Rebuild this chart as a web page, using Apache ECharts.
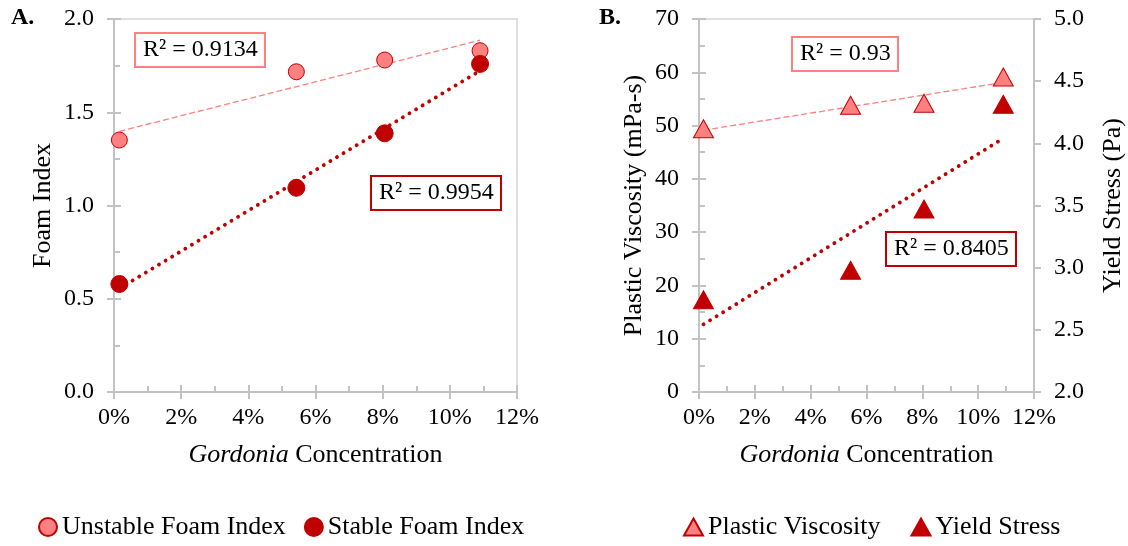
<!DOCTYPE html>
<html>
<head>
<meta charset="utf-8">
<script src="https://cdn.jsdelivr.net/npm/echarts@6/dist/echarts.min.js"></script>
<style>
html,body{margin:0;padding:0;background:#fff;}
#c{width:1128px;height:546px;}
</style>
</head>
<body>
<div id="c"></div>
<script>
// ---- data ----
const concentration = [0.16, 5.43, 8.06, 10.9];          // Gordonia concentration (%)
const unstableFoamIndex = [1.351, 1.717, 1.780, 1.830];
const stableFoamIndex = [0.579, 1.095, 1.387, 1.759];
const plasticViscosity = [49.4, 53.8, 54.2, 59.1];        // mPa-s
const yieldStress = [2.742, 2.979, 3.472, 4.314];         // Pa
const r2Labels = ['R² = 0.9134', 'R² = 0.9954', 'R² = 0.93', 'R² = 0.8405'];
const seriesNames = ['Unstable Foam Index', 'Stable Foam Index', 'Plastic Viscosity', 'Yield Stress'];

const FONT = 'Liberation Serif';
const LIGHT = '#FF8080';
const DARK = '#C00000';
const AXIS = '#C3C3C3';

function pairs(xs, ys) { return xs.map((x, i) => [x, ys[i]]); }
function trend(xs, ys) {
  const n = xs.length;
  const mx = xs.reduce((a, b) => a + b, 0) / n;
  const my = ys.reduce((a, b) => a + b, 0) / n;
  let sxy = 0, sxx = 0;
  for (let i = 0; i < n; i++) { sxy += (xs[i] - mx) * (ys[i] - my); sxx += (xs[i] - mx) * (xs[i] - mx); }
  const b = sxy / sxx, a = my - b * mx;
  const x0 = Math.min(...xs), x1 = Math.max(...xs);
  return [[x0, a + b * x0], [x1, a + b * x1]];
}

const tickFont = { color: '#000', fontFamily: FONT, fontSize: 24 };

function mainX(grid) {
  return {
    type: 'value', gridIndex: grid, position: 'bottom', min: 0, max: 12, interval: 2,
    axisLine: { show: true, onZero: false, lineStyle: { color: AXIS, width: 2 } },
    axisTick: { show: true, inside: false, length: 7, lineStyle: { color: AXIS, width: 2 } },
    axisLabel: Object.assign({ margin: 14, formatter: v => v + '%' }, tickFont),
    splitLine: { show: false },
    name: '{i|Gordonia} Concentration', nameLocation: 'middle', nameGap: 50,
    nameTextStyle: { color: '#000', fontFamily: FONT, fontSize: 26,
      rich: { i: { fontStyle: 'italic', fontFamily: FONT, fontSize: 26, color: '#000' } } }
  };
}
function innerX(grid) {
  return {
    type: 'value', gridIndex: grid, position: 'bottom', min: 0, max: 12, interval: 2,
    axisLine: { show: false, onZero: false },
    axisTick: { show: true, inside: true, length: 7, lineStyle: { color: AXIS, width: 2 } },
    minorTick: { show: true, splitNumber: 2, length: 6, lineStyle: { color: AXIS, width: 2 } },
    axisLabel: { show: false }, splitLine: { show: false }, minorSplitLine: { show: false }
  };
}
function mainY(grid, pos, min, max, interval, digits, name, gap) {
  return {
    type: 'value', gridIndex: grid, position: pos, min: min, max: max, interval: interval,
    axisLine: { show: true, onZero: false, lineStyle: { color: AXIS, width: 2 } },
    axisTick: { show: true, inside: false, length: 7, lineStyle: { color: AXIS, width: 2 } },
    axisLabel: Object.assign({ margin: 20, formatter: v => v.toFixed(digits) }, tickFont),
    splitLine: { show: false },
    name: name, nameLocation: 'middle', nameGap: gap, nameRotate: 90,
    nameTextStyle: { color: '#000', fontFamily: FONT, fontSize: 26 }
  };
}
function innerY(grid, min, max, interval) {
  return {
    type: 'value', gridIndex: grid, position: 'left', min: min, max: max, interval: interval,
    axisLine: { show: false, onZero: false },
    axisTick: { show: true, inside: true, length: 7, lineStyle: { color: AXIS, width: 2 } },
    minorTick: { show: true, splitNumber: 2, length: 6, lineStyle: { color: AXIS, width: 2 } },
    axisLabel: { show: false }, splitLine: { show: false }, minorSplitLine: { show: false }
  };
}

function r2Box(text, color, left, top) {
  return {
    text: text, left: left, top: top, padding: [5, 8],
    borderColor: color, borderWidth: 2, backgroundColor: '#fff',
    textStyle: { color: '#000', fontFamily: FONT, fontSize: 24, fontWeight: 'normal' }
  };
}

const legendText = { color: '#000', fontFamily: FONT, fontSize: 26 };

const option = {
  animation: false,
  backgroundColor: '#fff',
  grid: [
    { left: 114, top: 19, width: 403, height: 373, show: true, borderColor: '#D6D6D6', borderWidth: 1.5, backgroundColor: 'transparent' },
    { left: 699, top: 19, width: 335, height: 373, show: true, borderColor: '#D6D6D6', borderWidth: 1.5, backgroundColor: 'transparent' }
  ],
  title: [
    { text: 'A.', left: 11, top: 6, padding: 0, textStyle: { color: '#000', fontFamily: FONT, fontSize: 24, fontWeight: 'bold' } },
    { text: 'B.', left: 599, top: 6, padding: 0, textStyle: { color: '#000', fontFamily: FONT, fontSize: 24, fontWeight: 'bold' } },
    r2Box(r2Labels[0], LIGHT, 135, 33),
    r2Box(r2Labels[1], DARK, 371, 176),
    r2Box(r2Labels[2], LIGHT, 792, 37),
    r2Box(r2Labels[3], DARK, 886, 232)
  ],
  legend: [
    { data: [seriesNames[0], seriesNames[1]], left: 38, top: 514, itemWidth: 18, itemHeight: 18, itemGap: 18,
      textStyle: legendText, padding: 0 },
    { data: [seriesNames[2], seriesNames[3]], left: 683, top: 514, itemWidth: 19, itemHeight: 17, itemGap: 30,
      textStyle: legendText, padding: 0 }
  ],
  xAxis: [mainX(0), innerX(0), mainX(1), innerX(1)],
  yAxis: [
    mainY(0, 'left', 0, 2, 0.5, 1, 'Foam Index', 58),
    innerY(0, 0, 2, 0.5),
    mainY(1, 'left', 0, 70, 10, 0, 'Plastic Viscosity (mPa-s)', 52),
    innerY(1, 0, 70, 10),
    mainY(1, 'right', 2, 5, 0.5, 1, 'Yield Stress (Pa)', 66)
  ],
  series: [
    { name: 'trend-unstable', type: 'line', xAxisIndex: 0, yAxisIndex: 0, data: trend(concentration, unstableFoamIndex),
      symbol: 'none', z: 1, silent: true, lineStyle: { color: LIGHT, width: 1.3, type: [6, 3] } },
    { name: 'trend-stable', type: 'line', xAxisIndex: 0, yAxisIndex: 0, data: trend(concentration, stableFoamIndex),
      symbol: 'none', z: 1, silent: true, lineStyle: { color: DARK, width: 3.8, type: [0.1, 7.6], cap: 'round' } },
    { name: seriesNames[0], type: 'scatter', xAxisIndex: 0, yAxisIndex: 0, data: pairs(concentration, unstableFoamIndex),
      symbol: 'circle', symbolSize: 16, z: 3, itemStyle: { color: LIGHT, borderColor: DARK, borderWidth: 1, opacity: 1 } },
    { name: seriesNames[1], type: 'scatter', xAxisIndex: 0, yAxisIndex: 0, data: pairs(concentration, stableFoamIndex),
      symbol: 'circle', symbolSize: 17, z: 3, itemStyle: { color: DARK, borderColor: DARK, borderWidth: 1, opacity: 1 } },

    { name: 'trend-pv', type: 'line', xAxisIndex: 2, yAxisIndex: 2, data: trend(concentration, plasticViscosity),
      symbol: 'none', z: 1, silent: true, lineStyle: { color: LIGHT, width: 1.3, type: [6, 3] } },
    { name: 'trend-ys', type: 'line', xAxisIndex: 2, yAxisIndex: 4, data: trend(concentration, yieldStress),
      symbol: 'none', z: 1, silent: true, lineStyle: { color: DARK, width: 3.8, type: [0.1, 7.6], cap: 'round' } },
    { name: seriesNames[2], type: 'scatter', xAxisIndex: 2, yAxisIndex: 2, data: pairs(concentration, plasticViscosity),
      symbol: 'triangle', symbolSize: [20, 18], z: 3, itemStyle: { color: LIGHT, borderColor: DARK, borderWidth: 1, opacity: 1 } },
    { name: seriesNames[3], type: 'scatter', xAxisIndex: 2, yAxisIndex: 4, data: pairs(concentration, yieldStress),
      symbol: 'triangle', symbolSize: [20, 18], z: 3, itemStyle: { color: DARK, borderColor: DARK, borderWidth: 1, opacity: 1 } }
  ]
};

const chart = echarts.init(document.getElementById('c'), null, { renderer: 'canvas' });
chart.setOption(option);
</script>
</body>
</html>
